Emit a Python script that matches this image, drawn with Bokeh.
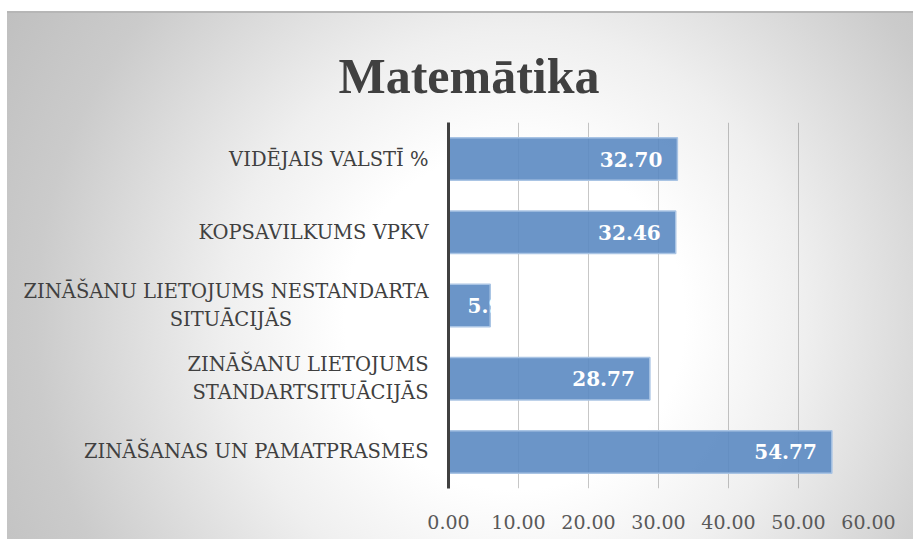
from bokeh.plotting import figure
from bokeh.models import ColumnDataSource, Range1d, FixedTicker, NumeralTickFormatter
from bokeh.core.properties import value
from bokeh.embed import file_html
from bokeh.resources import INLINE

# ---- data ----
categories = [
    "ZINĀŠANAS UN PAMATPRASMES",
    "ZINĀŠANU LIETOJUMS\nSTANDARTSITUĀCIJĀS",
    "ZINĀŠANU LIETOJUMS NESTANDARTA\nSITUĀCIJĀS",
    "KOPSAVILKUMS VPKV",
    "VIDĒJAIS VALSTĪ %",
]
values = [54.77, 28.77, 5.96, 32.46, 32.70]
x_ticks = [0, 10, 20, 30, 40, 50, 60]
title_text = "Matemātika"

# ---- derived positions / label placement ----
ypos = list(range(len(categories)))
labels = [f"{v:.2f}" for v in values]
fits = [v >= 10 for v in values]
lab_x = [v if f else 0 for v, f in zip(values, fits)]
lab_off = [-15 if f else 19 for f in fits]
lab_align = ["right" if f else "left" for f in fits]

src = ColumnDataSource(dict(y=ypos, cat=categories, val=values, lbl=labels,
                            lx=lab_x, xo=lab_off, ta=lab_align))

p = figure(
    width=906, height=528,
    y_range=Range1d(-0.5, len(categories) - 0.5),
    x_range=Range1d(0, 60),
    output_backend="svg", toolbar_location=None,
    min_border_left=441, min_border_right=45,
    min_border_top=109, min_border_bottom=53,
    background_fill_alpha=0, border_fill_alpha=0,
    outline_line_color=None,
    title=title_text,
)
p.styles = {
    "margin-top": "11px",
    "margin-left": "7px",
    "border-top": "2px solid #b6b6b6",
    "background": "radial-gradient(circle at 508px 307px, #ffffff 0px, #ffffff 170px, #efefef 290px, #cbcbcb 480px, #bdbdbd 620px)",
}

p.title.text_font = "Liberation Serif"
p.title.text_font_size = "50px"
p.title.text_font_style = "bold"
p.title.text_color = "#404040"
p.title.align = "left"
p.title.offset = -110
p.title.padding = dict(left=0, right=0, top=0, bottom=14)

p.hbar(y="y", left=0, right="val", height=0.58, source=src,
       fill_color="#5b89c2", fill_alpha=0.9,
       line_color="#a9c4e4", line_width=1.5)

p.text(x="lx", y="y", text="lbl", x_offset="xo", text_align="ta",
       text_baseline="middle", text_color="white",
       text_font=value("DejaVu Serif"), text_font_style="bold",
       text_font_size="20px", source=src)

# x axis
p.xaxis.ticker = FixedTicker(ticks=x_ticks)
p.xaxis.formatter = NumeralTickFormatter(format="0.00")
p.xaxis.axis_line_color = None
p.xaxis.major_tick_line_color = None
p.xaxis.minor_tick_line_color = None
p.xaxis.major_label_text_font = "DejaVu Serif"
p.xaxis.major_label_text_font_size = "19px"
p.xaxis.major_label_text_color = "#595959"
p.xaxis.major_label_standoff = 20

# y axis: category names as tick labels; centre short 2nd line of long label
NBSP = "\u00a0"
overrides = {}
for i, c in zip(ypos, categories):
    lines = c.split("\n")
    if len(lines) == 2 and len(lines[1]) < len(lines[0]) * 0.5:
        c = lines[0] + "\n" + lines[1] + NBSP * 22 + "\u200b"
    overrides[i] = c
p.yaxis.ticker = FixedTicker(ticks=ypos)
p.yaxis.major_label_overrides = overrides
p.yaxis.axis_line_color = "#404040"
p.yaxis.axis_line_width = 3
p.yaxis.major_tick_line_color = None
p.yaxis.minor_tick_line_color = None
p.yaxis.major_label_text_font = "DejaVu Serif"
p.yaxis.major_label_text_font_size = "19.5px"
p.yaxis.major_label_text_color = "#404040"
p.yaxis.major_label_standoff = 14

# grid
p.xgrid.ticker = FixedTicker(ticks=x_ticks)
p.xgrid.grid_line_color = "#000000"
p.xgrid.grid_line_alpha = 0.22
p.ygrid.grid_line_color = None

open("out.html", "w").write(file_html(p, INLINE))
